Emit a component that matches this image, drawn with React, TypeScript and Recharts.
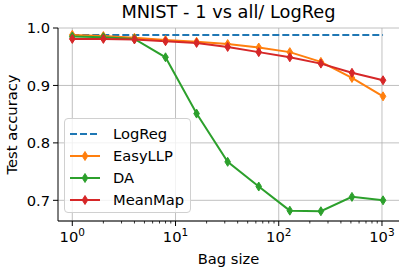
import React from 'react';
import { LineChart, Line, XAxis, YAxis, CartesianGrid } from 'recharts';

const bagSizes = [1, 2, 4, 8, 16, 32, 64, 128, 256, 512, 1024];
const logReg = [0.988, 0.988, 0.988, 0.988, 0.988, 0.988, 0.988, 0.988, 0.988, 0.988, 0.988];
const easyLLP = [0.988, 0.986, 0.983, 0.979, 0.976, 0.972, 0.966, 0.958, 0.941, 0.913, 0.881];
const da = [0.985, 0.984, 0.981, 0.949, 0.851, 0.767, 0.724, 0.682, 0.681, 0.706, 0.7];
const meanMap = [0.981, 0.981, 0.98, 0.977, 0.974, 0.967, 0.958, 0.949, 0.938, 0.922, 0.909];

const majorTicks = [1, 10, 100, 1000];
const minorTicks = [2, 3, 4, 5, 6, 7, 8, 9, 20, 30, 40, 50, 60, 70, 80, 90, 200, 300, 400, 500, 600, 700, 800, 900];
const yTicks = [0.7, 0.8, 0.9, 1.0];

const series = [
  { key: 'logReg', name: 'LogReg', color: '#1f77b4', dashed: true },
  { key: 'easyLLP', name: 'EasyLLP', color: '#ff7f0e', dashed: false },
  { key: 'da', name: 'DA', color: '#2ca02c', dashed: false },
  { key: 'meanMap', name: 'MeanMap', color: '#d62728', dashed: false },
];

const data = bagSizes.map((x, i) => ({
  x,
  logReg: logReg[i],
  easyLLP: easyLLP[i],
  da: da[i],
  meanMap: meanMap[i],
}));

const FONT = '"DejaVu Sans", sans-serif';

function Diamond(props: any) {
  const { cx, cy, stroke } = props;
  if (cx == null || cy == null) return null;
  return (
    <polygon
      points={`${cx},${cy - 4.5} ${cx + 2.8},${cy} ${cx},${cy + 4.5} ${cx - 2.8},${cy}`}
      fill={stroke}
      stroke={stroke}
      strokeWidth={1}
    />
  );
}

function XTick(props: any) {
  const { x, y, payload } = props;
  const v = payload.value;
  const major = majorTicks.includes(v);
  if (!major) {
    return <line x1={x} x2={x} y1={y} y2={y + 2.5} stroke="#000" strokeWidth={0.8} />;
  }
  const exp = Math.round(Math.log10(v));
  return (
    <g>
      <line x1={x} x2={x} y1={y} y2={y + 5} stroke="#000" strokeWidth={1} />
      <text x={x} y={y + 21} textAnchor="middle" fontFamily={FONT} fontSize={14.7} fill="#000">
        <tspan>10</tspan>
        <tspan dy={-6} fontSize={10.5}>{exp}</tspan>
      </text>
    </g>
  );
}

function YTick(props: any) {
  const { x, y, payload } = props;
  return (
    <g>
      <line x1={x - 5} x2={x} y1={y} y2={y} stroke="#000" strokeWidth={1} />
      <text x={x - 8} y={y} dy="0.36em" textAnchor="end" fontFamily={FONT} fontSize={14.7} fill="#000">
        {payload.value.toFixed(1)}
      </text>
    </g>
  );
}

function LegendBox() {
  return (
    <div
      style={{
        position: 'absolute',
        left: 64,
        top: 118,
        width: 127,
        height: 95,
        border: '1px solid #d0d0d0',
        borderRadius: 4,
        background: 'rgba(255,255,255,0.8)',
        boxSizing: 'border-box',
        fontFamily: FONT,
        fontSize: 14.7,
      }}
    >
      {series.map((s, i) => (
        <div key={s.key} style={{ position: 'absolute', left: 0, top: 4 + i * 22, height: 22, width: 125 }}>
          <svg width={40} height={22} style={{ position: 'absolute', left: 0, top: 0 }}>
            <line
              x1={5}
              x2={35}
              y1={11}
              y2={11}
              stroke={s.color}
              strokeWidth={2}
              strokeDasharray={s.dashed ? '7 3' : undefined}
            />
            {!s.dashed && <Diamond cx={20} cy={11} stroke={s.color} />}
          </svg>
          <span style={{ position: 'absolute', left: 48, top: 1, lineHeight: '20px', color: '#000' }}>{s.name}</span>
        </div>
      ))}
    </div>
  );
}

export default function App() {
  return (
    <div style={{ position: 'absolute', left: 0, top: 0, width: 404, height: 272, background: '#fff' }}>
      <div
        style={{
          position: 'absolute',
          left: 58,
          width: 341,
          top: 1,
          textAlign: 'center',
          fontFamily: FONT,
          fontSize: 17.8,
          color: '#000',
        }}
      >
        MNIST - 1 vs all/ LogReg
      </div>
      <LineChart width={404} height={272} data={data} margin={{ top: 28, right: 5, bottom: 0, left: 0 }}>
        <CartesianGrid stroke="#b0b0b0" strokeWidth={0.8} verticalValues={majorTicks} />
        <XAxis
          dataKey="x"
          type="number"
          scale="log"
          domain={[0.727, 1462]}
          allowDataOverflow
          ticks={[...majorTicks, ...minorTicks].sort((a, b) => a - b)}
          interval={0}
          tick={<XTick />}
          tickLine={false}
          tickSize={0}
          tickMargin={0}
          height={51}
          axisLine={{ stroke: '#000', strokeWidth: 1 }}
          label={{ value: 'Bag size', position: 'insideBottom', offset: 8, fontFamily: FONT, fontSize: 14.7, fill: '#000' }}
        />
        <XAxis xAxisId="top" orientation="top" dataKey="x" type="number" scale="log" domain={[0.727, 1462]} allowDataOverflow height={0} tick={false} tickLine={false} axisLine={{ stroke: '#000', strokeWidth: 1 }} />
        <YAxis
          type="number"
          domain={[0.664, 1.0]}
          allowDataOverflow
          ticks={yTicks}
          interval={0}
          tick={<YTick />}
          tickLine={false}
          tickSize={0}
          tickMargin={0}
          width={58}
          axisLine={{ stroke: '#000', strokeWidth: 1 }}
          label={{ value: 'Test accuracy', angle: -90, position: 'insideLeft', offset: 12, style: { textAnchor: 'middle' }, fontFamily: FONT, fontSize: 14.7, fill: '#000' }}
        />
        <YAxis yAxisId="right" orientation="right" domain={[0.664, 1.0]} width={0} tick={false} tickLine={false} axisLine={{ stroke: '#000', strokeWidth: 1 }} />
        {series.map((s) => (
          <Line
            key={s.key}
            dataKey={s.key}
            name={s.name}
            stroke={s.color}
            strokeWidth={2}
            strokeDasharray={s.dashed ? '7 3' : undefined}
            dot={s.dashed ? false : <Diamond />}
            activeDot={false}
            isAnimationActive={false}
          />
        ))}
      </LineChart>
      <LegendBox />
    </div>
  );
}
